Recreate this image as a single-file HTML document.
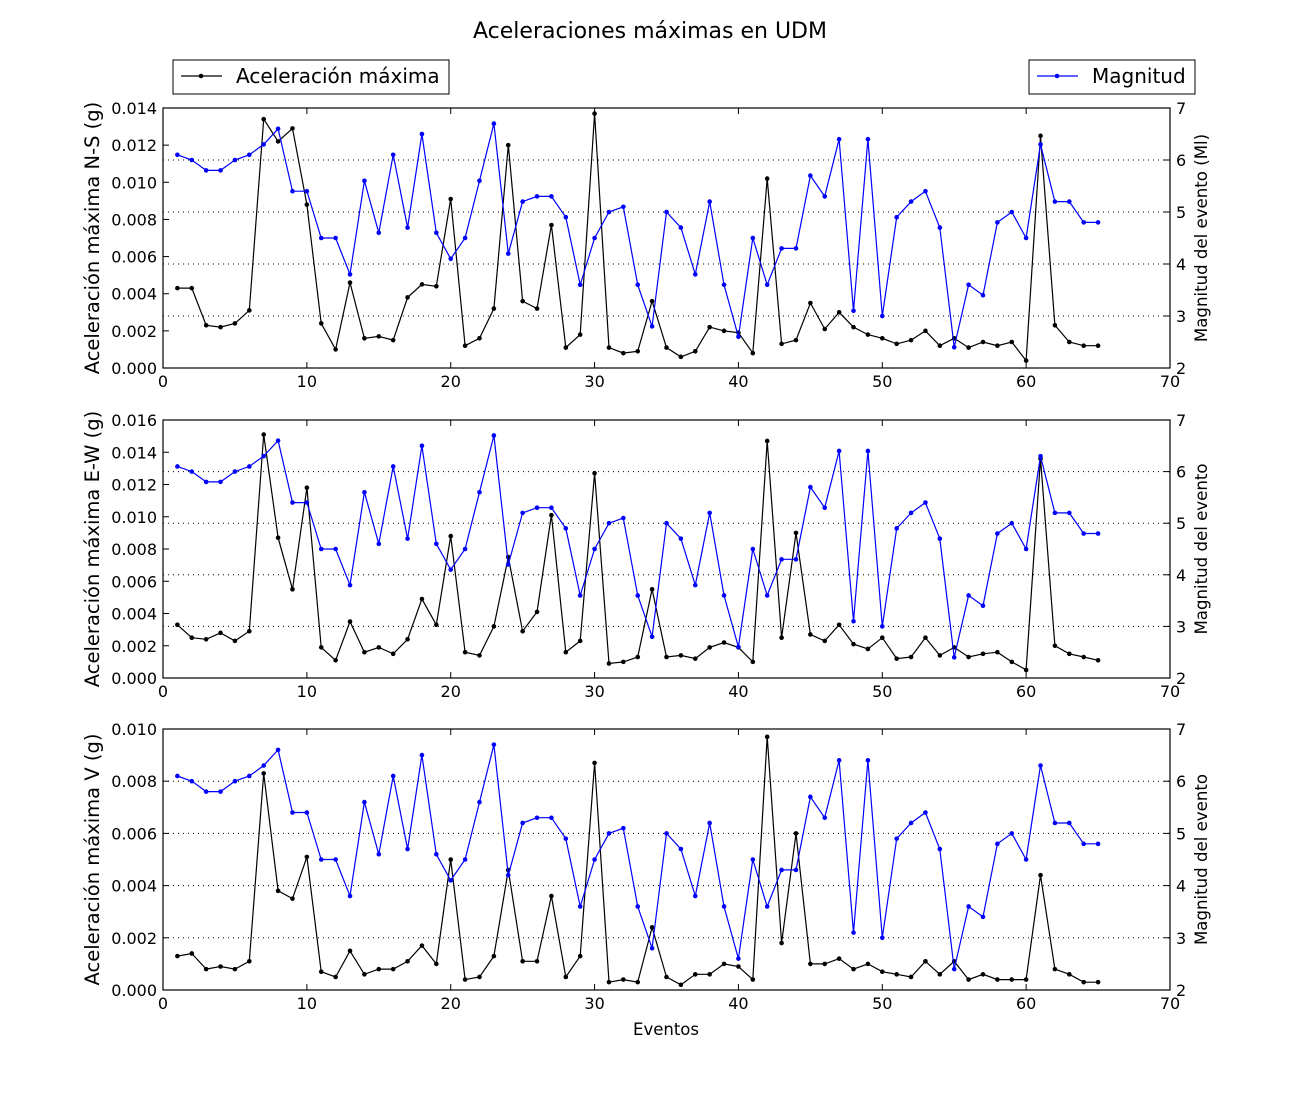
<!DOCTYPE html>
<html><head><meta charset="utf-8"><style>
body{margin:0;background:#fff;}
svg text{font-family:"DejaVu Sans","Liberation Sans",sans-serif;}
</style></head><body>
<svg id="s" width="1300" height="1100" xmlns="http://www.w3.org/2000/svg"></svg>
<script>
const mag=[6.1,6.0,5.8,5.8,6.0,6.1,6.3,6.6,5.4,5.4,4.5,4.5,3.8,5.6,4.6,6.1,4.7,6.5,4.6,4.1,4.5,5.6,6.7,4.2,5.2,5.3,5.3,4.9,3.6,4.5,5.0,5.1,3.6,2.8,5.0,4.7,3.8,5.2,3.6,2.6,4.5,3.6,4.3,4.3,5.7,5.3,6.4,3.1,6.4,3.0,4.9,5.2,5.4,4.7,2.4,3.6,3.4,4.8,5.0,4.5,6.3,5.2,5.2,4.8,4.8];
const ns=[.0043,.0043,.0023,.0022,.0024,.0031,.0134,.0122,.0129,.0088,.0024,.0010,.0046,.0016,.0017,.0015,.0038,.0045,.0044,.0091,.0012,.0016,.0032,.0120,.0036,.0032,.0077,.0011,.0018,.0137,.0011,.0008,.0009,.0036,.0011,.0006,.0009,.0022,.0020,.0019,.0008,.0102,.0013,.0015,.0035,.0021,.0030,.0022,.0018,.0016,.0013,.0015,.0020,.0012,.0016,.0011,.0014,.0012,.0014,.0004,.0125,.0023,.0014,.0012,.0012];
const ew=[.0033,.0025,.0024,.0028,.0023,.0029,.0151,.0087,.0055,.0118,.0019,.0011,.0035,.0016,.0019,.0015,.0024,.0049,.0033,.0088,.0016,.0014,.0032,.0075,.0029,.0041,.0101,.0016,.0023,.0127,.0009,.0010,.0013,.0055,.0013,.0014,.0012,.0019,.0022,.0019,.0010,.0147,.0025,.0090,.0027,.0023,.0033,.0021,.0018,.0025,.0012,.0013,.0025,.0014,.0019,.0013,.0015,.0016,.0010,.0005,.0136,.0020,.0015,.0013,.0011];
const vv=[.0013,.0014,.0008,.0009,.0008,.0011,.0083,.0038,.0035,.0051,.0007,.0005,.0015,.0006,.0008,.0008,.0011,.0017,.0010,.0050,.0004,.0005,.0013,.0046,.0011,.0011,.0036,.0005,.0013,.0087,.0003,.0004,.0003,.0024,.0005,.0002,.0006,.0006,.0010,.0009,.0004,.0097,.0018,.0060,.0010,.0010,.0012,.0008,.0010,.0007,.0006,.0005,.0011,.0006,.0011,.0004,.0006,.0004,.0004,.0004,.0044,.0008,.0006,.0003,.0003];
const L=163,R=1170;let h='';
const X=x=>L+(R-L)*x/70;
h+='<text x="650" y="38" font-size="22" text-anchor="middle">Aceleraciones máximas en UDM</text>';
function panel(top,bot,ymax,data,ylab,rlab){
  const Y=v=>bot-(bot-top)*v/ymax, M=m=>bot-(bot-top)*(m-2)/5;
  for(let m=3;m<=6;m++)h+=`<line x1="${L}" x2="${R}" y1="${M(m)}" y2="${M(m)}" stroke="#000" stroke-width="1" stroke-dasharray="1,4"/>`;
  let p=data.map((v,i)=>X(i+1).toFixed(1)+','+Y(v).toFixed(1)).join(' ');
  h+=`<polyline points="${p}" fill="none" stroke="#000" stroke-width="1.2"/>`;
  data.forEach((v,i)=>h+=`<circle cx="${X(i+1)}" cy="${Y(v)}" r="2.3" fill="#000"/>`);
  p=mag.map((v,i)=>X(i+1).toFixed(1)+','+M(v).toFixed(1)).join(' ');
  h+=`<polyline points="${p}" fill="none" stroke="#0000ff" stroke-width="1.2"/>`;
  mag.forEach((v,i)=>h+=`<circle cx="${X(i+1)}" cy="${M(v)}" r="2.3" fill="#0000ff"/>`);
  h+=`<rect x="${L}" y="${top}" width="${R-L}" height="${bot-top}" fill="none" stroke="#000" stroke-width="1.2"/>`;
  for(let x=0;x<=70;x+=10){h+=`<line x1="${X(x)}" x2="${X(x)}" y1="${bot}" y2="${bot-6}" stroke="#000"/><line x1="${X(x)}" x2="${X(x)}" y1="${top}" y2="${top+6}" stroke="#000"/><text x="${X(x)}" y="${bot+19}" font-size="16" text-anchor="middle">${x}</text>`;}
  for(let v=0;v<=ymax+1e-9;v+=0.002){const y=Y(v);h+=`<line x1="${L}" x2="${L+6}" y1="${y}" y2="${y}" stroke="#000"/><text x="${L-6}" y="${y+6}" font-size="16" text-anchor="end">${v.toFixed(3)}</text>`;}
  for(let m=2;m<=7;m++){const y=M(m);h+=`<line x1="${R-6}" x2="${R}" y1="${y}" y2="${y}" stroke="#000"/><text x="${R+6}" y="${y+6}" font-size="16">${m}</text>`;}
  const c=(top+bot)/2;
  h+=`<text transform="translate(99,${c}) rotate(-90)" font-size="19.5" text-anchor="middle">${ylab}</text>`;
  h+=`<text transform="translate(1207,${c}) rotate(-90)" font-size="16.6" text-anchor="middle">${rlab}</text>`;
}
panel(108,368,0.014,ns,'Aceleración máxima N-S (g)','Magnitud del evento (Ml)');
panel(420,678,0.016,ew,'Aceleración máxima E-W (g)','Magnitud del evento');
panel(729,990,0.010,vv,'Aceleración máxima V (g)','Magnitud del evento');
h+='<text x="666" y="1035" font-size="16.5" text-anchor="middle">Eventos</text>';
h+='<rect x="173" y="60" width="276" height="34" fill="#fff" stroke="#000"/><line x1="181" x2="222" y1="76" y2="76" stroke="#000" stroke-width="1.2"/><circle cx="201" cy="76" r="2.3"/><text x="236" y="83" font-size="20">Aceleración máxima</text>';
h+='<rect x="1029" y="60" width="166" height="34" fill="#fff" stroke="#000"/><line x1="1037" x2="1078" y1="76" y2="76" stroke="#00f" stroke-width="1.2"/><circle cx="1057" cy="76" r="2.3" fill="#00f"/><text x="1092" y="83" font-size="20">Magnitud</text>';
document.getElementById('s').innerHTML=h;
</script>
</body></html>
